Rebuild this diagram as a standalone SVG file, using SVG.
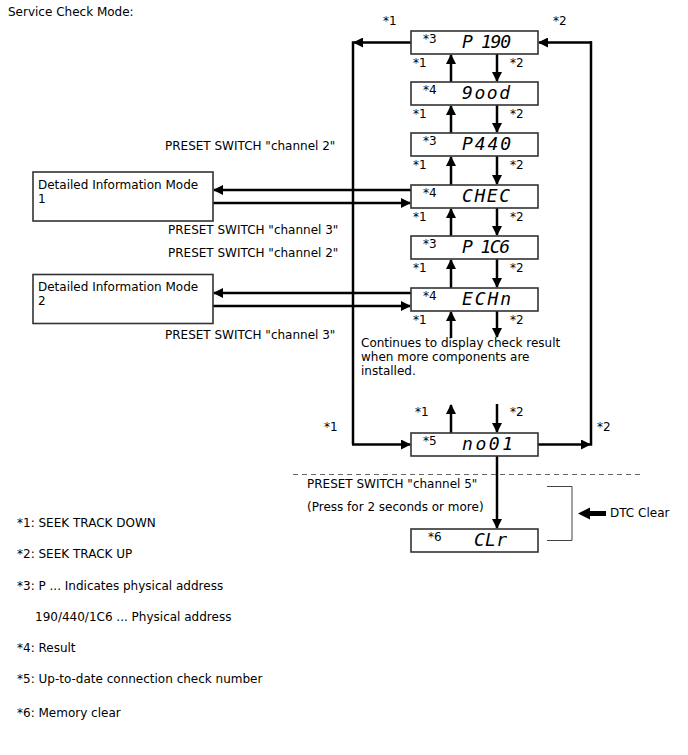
<svg xmlns="http://www.w3.org/2000/svg" width="688" height="755" viewBox="0 0 688 755">
<style>
text{font-family:"DejaVu Sans","Liberation Sans",sans-serif;font-size:12px;fill:#000}
.box{fill:#fff;stroke:#333;stroke-width:1.6}
.seg{font-family:"DejaVu Sans Mono","Liberation Mono",monospace;font-style:italic;font-size:18px}
.ln{fill:none;stroke:#000;stroke-width:2.5}
.ar{fill:none;stroke:#000;stroke-width:2.5;marker-end:url(#ah)}
.thin{fill:none;stroke:#444;stroke-width:1}
.dash{fill:none;stroke:#666;stroke-width:1.2;stroke-dasharray:5,4}
</style>
<defs>
<marker id="ah" viewBox="0 0 10 10" refX="9" refY="5" markerWidth="10" markerHeight="10" markerUnits="userSpaceOnUse" orient="auto">
<path d="M0,0 L10,5 L0,10 z" fill="#000"/>
</marker>
</defs>
<rect width="688" height="755" fill="#fff"/>
<text x="8" y="16">Service Check Mode:</text>

<g id="connectors">
<path class="ar" d="M411,42.5 H354"/>
<path class="ln" d="M353,41.3 V444.5"/>
<path class="ar" d="M352,444.5 H410"/>
<path class="ar" d="M592,42.5 H539"/>
<path class="ln" d="M591,41.3 V445.7"/>
<path class="ar" d="M538,444.5 H590"/>
<path class="ar" d="M451,82 V55"/>
<path class="ar" d="M497,54 V81"/>
<path class="ar" d="M451,133 V106"/>
<path class="ar" d="M497,105 V132"/>
<path class="ar" d="M451,185 V157"/>
<path class="ar" d="M497,156 V184"/>
<path class="ar" d="M451,236 V209"/>
<path class="ar" d="M497,208 V235"/>
<path class="ar" d="M451,288 V260"/>
<path class="ar" d="M497,259 V287"/>
<path class="ar" d="M451,338 V312"/>
<path class="ar" d="M497,311 V337"/>
<path class="ar" d="M451,433 V405"/>
<path class="ar" d="M497,404 V432"/>
<path class="ar" d="M497,456 V528"/>
<path class="ar" d="M411,190 H214"/>
<path class="ar" d="M213,203 H410"/>
<path class="ar" d="M411,293 H214"/>
<path class="ar" d="M213,306 H410"/>
<path class="dash" d="M293,474.5 H643"/>
<path class="thin" d="M547,486.5 H572 V540.5 H547"/>
<path d="M578,513.5 L590,507.5 V511 H606 V516 H590 V519.5 z" fill="#000"/>
</g>

<g id="labels">
<text x="383" y="25">*1</text>
<text x="553" y="25">*2</text>
<text x="324" y="431">*1</text>
<text x="597" y="431">*2</text>
<text x="413" y="67">*1</text><text x="510" y="67">*2</text>
<text x="413" y="118">*1</text><text x="510" y="118">*2</text>
<text x="413" y="169">*1</text><text x="510" y="169">*2</text>
<text x="413" y="221">*1</text><text x="510" y="221">*2</text>
<text x="413" y="272">*1</text><text x="510" y="272">*2</text>
<text x="413" y="324">*1</text><text x="510" y="324">*2</text>
<text x="415" y="416">*1</text><text x="510" y="416">*2</text>
<text x="165" y="150">PRESET SWITCH "channel 2"</text>
<text x="168" y="234">PRESET SWITCH "channel 3"</text>
<text x="168" y="257">PRESET SWITCH "channel 2"</text>
<text x="165" y="339">PRESET SWITCH "channel 3"</text>
<text x="361" y="347">Continues to display check result</text>
<text x="361" y="361">when more components are</text>
<text x="361" y="375">installed.</text>
<text x="307" y="488">PRESET SWITCH "channel 5"</text>
<text x="307" y="511">(Press for 2 seconds or more)</text>
<text x="610" y="517">DTC Clear</text>
</g>

<g id="n-p190"><rect class="box" x="411" y="31" width="127" height="23"/><text x="423" y="43">*3</text><text class="seg" x="462" y="47.5" textLength="49">P 190</text></g>
<g id="n-good"><rect class="box" x="411" y="82" width="127" height="23"/><text x="423" y="94">*4</text><text class="seg" x="462" y="98.5" textLength="48">9ood</text></g>
<g id="n-p440"><rect class="box" x="411" y="133" width="127" height="23"/><text x="423" y="145">*3</text><text class="seg" x="462" y="149.5" textLength="49">P440</text></g>
<g id="n-chec"><rect class="box" x="411" y="185" width="127" height="23"/><text x="423" y="197">*4</text><text class="seg" x="462" y="201.5" textLength="48">CHEC</text></g>
<g id="n-p1c6"><rect class="box" x="411" y="236" width="127" height="23"/><text x="423" y="248">*3</text><text class="seg" x="462" y="252.5" textLength="48">P 1C6</text></g>
<g id="n-echn"><rect class="box" x="411" y="288" width="127" height="23"/><text x="423" y="300">*4</text><text class="seg" x="462" y="304.5" textLength="49">ECHn</text></g>
<g id="n-no01"><rect class="box" x="411" y="433" width="127" height="23"/><text x="423" y="445">*5</text><text class="seg" x="462" y="449.5" textLength="51">no01</text></g>
<g id="n-clr"><rect class="box" x="411" y="529" width="127" height="23"/><text x="428" y="541">*6</text><text class="seg" x="474" y="545.5" textLength="33">CLr</text></g>

<g id="n-info1"><rect class="box" x="33" y="172" width="180" height="49"/><text x="38" y="189">Detailed Information Mode</text><text x="38" y="203">1</text></g>
<g id="n-info2"><rect class="box" x="33" y="274.5" width="180" height="49"/><text x="38" y="291">Detailed Information Mode</text><text x="38" y="305">2</text></g>

<g id="legend">
<text x="17" y="527">*1: SEEK TRACK DOWN</text>
<text x="17" y="558">*2: SEEK TRACK UP</text>
<text x="17" y="590">*3: P ... Indicates physical address</text>
<text x="35" y="621">190/440/1C6 ... Physical address</text>
<text x="17" y="652">*4: Result</text>
<text x="17" y="683">*5: Up-to-date connection check number</text>
<text x="17" y="717">*6: Memory clear</text>
</g>
</svg>
